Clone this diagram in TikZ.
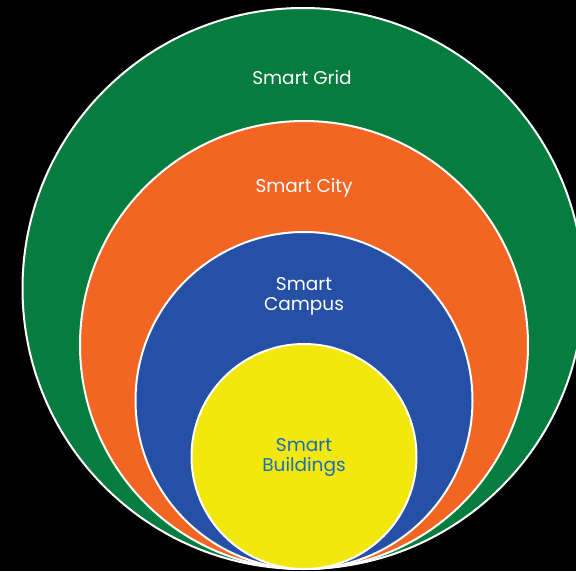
\documentclass[tikz,border=0pt]{standalone}
\usepackage{fontspec}
\setmainfont{Poppins}
\usepackage{tikz}
\usetikzlibrary{positioning}

\definecolor{gridgreen}{RGB}{6,125,62}
\definecolor{cityorange}{RGB}{242,101,34}
\definecolor{campusblue}{RGB}{37,80,165}
\definecolor{bldgyellow}{RGB}{242,232,14}
\definecolor{textblue}{RGB}{28,110,180}

\tikzset{
  ring/.style={circle, draw=white, line width=2pt, inner sep=0pt},
  tag/.style={text=white, font=\fontsize{18.5}{20}\selectfont, align=center}
}

\begin{document}
\begin{tikzpicture}[x=1pt,y=-1pt]
\fill[black] (0,0) rectangle (576,571);
\useasboundingbox (0,0) rectangle (576,571);
\clip (0,0) rectangle (576,571);
\node[ring, fill=gridgreen, minimum size=561pt] (grid) at (303,288.5) {};
\node[ring, fill=cityorange, minimum size=448pt] (city) at (304,345) {};
\node[ring, fill=campusblue, minimum size=337pt] (campus) at (304,400.5) {};
\node[ring, fill=bldgyellow, minimum size=225pt] (bldg) at (304,456.5) {};
\node[tag] (gridtxt) at (302,78) {Smart Grid};
\node[tag] (citytxt) at (304,188) {Smart City};
\node[tag] (campustxt) at (304,296) {Smart\\Campus};
\node[tag, text=textblue] (bldgtxt) at (304,457) {Smart\\Buildings};
\end{tikzpicture}
\end{document}
